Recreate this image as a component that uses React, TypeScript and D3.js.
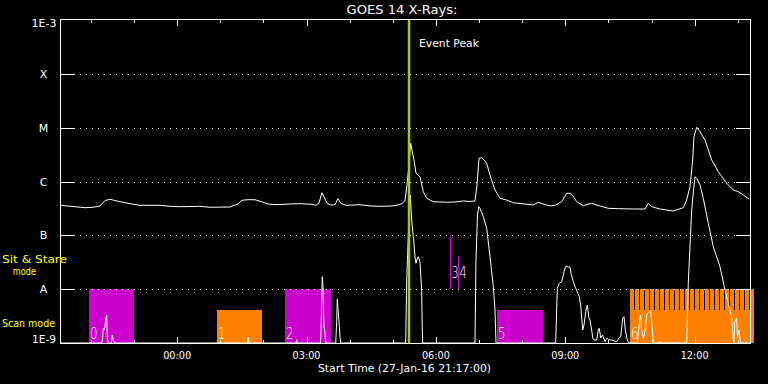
import React from "react";
import * as d3 from "d3";

// ---- data ----
const START = Date.UTC(2016, 0, 27, 21, 17, 0);
const END = Date.UTC(2016, 0, 28, 13, 17, 0);
const titleText = "GOES 14 X-Rays:";
const xAxisTitle = "Start Time (27-Jan-16 21:17:00)";
const eventPeakHour = 8.093;
const classLabels = ["X", "M", "C", "B", "A"];
const classValues = [1e-4, 1e-5, 1e-6, 1e-7, 1e-8];
const endLabels = ["1E-3", "1E-9"];

// long channel [hours since start, log10 flux]
const longCurve: [number, number][] = [
  [0, -6.442], [0.348, -6.468], [0.58, -6.487], [0.765, -6.479], [0.928, -6.455], [1.043, -6.353],
  [1.159, -6.33], [1.275, -6.353], [1.391, -6.375], [1.623, -6.412], [1.855, -6.442], [2.319, -6.442],
  [2.551, -6.461], [2.783, -6.468], [3.246, -6.461], [3.478, -6.479], [3.942, -6.474], [4.128, -6.418],
  [4.22, -6.349], [4.359, -6.338], [4.522, -6.338], [4.684, -6.381], [4.823, -6.418], [4.986, -6.431],
  [5.333, -6.418], [5.565, -6.412], [5.843, -6.423], [5.936, -6.442], [6.006, -6.399], [6.075, -6.208],
  [6.122, -6.288], [6.191, -6.399], [6.261, -6.436], [6.377, -6.431], [6.446, -6.319], [6.516, -6.409],
  [6.632, -6.442], [6.957, -6.431], [7.188, -6.455], [7.42, -6.461], [7.699, -6.455], [7.838, -6.436],
  [7.93, -6.412], [8.0, -6.356], [8.046, -6.065], [8.093, -5.693], [8.132, -5.29], [8.162, -5.415],
  [8.209, -5.6], [8.255, -5.847], [8.301, -5.879], [8.348, -5.916], [8.424, -6.189], [8.503, -6.312],
  [8.656, -6.375], [8.967, -6.386], [9.159, -6.381], [9.352, -6.362], [9.507, -6.371], [9.623, -6.362],
  [9.67, -6.065], [9.716, -5.569], [9.778, -5.558], [9.832, -5.6], [9.894, -5.662], [9.971, -5.879],
  [10.087, -6.158], [10.203, -6.312], [10.358, -6.344], [10.511, -6.394], [10.667, -6.409], [10.975, -6.436],
  [11.091, -6.386], [11.2, -6.418], [11.362, -6.455], [11.501, -6.436], [11.633, -6.375], [11.749, -6.219],
  [11.826, -6.219], [11.896, -6.269], [11.981, -6.375], [12.134, -6.449], [12.329, -6.405], [12.522, -6.455],
  [12.714, -6.498], [12.946, -6.505], [13.294, -6.511], [13.565, -6.511], [13.642, -6.405], [13.72, -6.468],
  [13.913, -6.511], [14.221, -6.548], [14.453, -6.487], [14.532, -6.344], [14.609, -6.096], [14.671, -5.6],
  [14.701, -5.168], [14.764, -4.993], [14.841, -5.075], [14.957, -5.229], [15.112, -5.6], [15.265, -5.818],
  [15.46, -6.033], [15.613, -6.158], [15.729, -6.189], [15.845, -6.251], [15.984, -6.33],
];

// short channel [hours since start, log10 flux] (below 1E-9 is off scale)
const shortCurve: [number, number][] = [
  [0, -9.3], [0.928, -9.3], [0.981, -8.976], [1.004, -8.727], [1.032, -8.758], [1.06, -8.56], [1.083, -8.48],
  [1.097, -8.913], [1.125, -9.3], [1.194, -9.3], [1.213, -8.851], [1.236, -8.95], [1.253, -8.976], [1.275, -9.3],
  [4.348, -9.3], [4.366, -8.89], [4.383, -9.3], [5.472, -9.3], [5.489, -8.94], [5.503, -9.3],
  [6.041, -9.3], [6.052, -8.809], [6.068, -8.201], [6.082, -7.768], [6.099, -7.954], [6.106, -8.201],
  [6.122, -8.697], [6.145, -8.809], [6.161, -9.3], [6.393, -9.3], [6.416, -8.604], [6.43, -8.188],
  [6.446, -8.355], [6.463, -8.541], [6.477, -8.697], [6.493, -8.883], [6.509, -9.3],
  [8.016, -9.3], [8.039, -7.861], [8.081, -6.9], [8.123, -6.251], [8.155, -6.715], [8.193, -7.025],
  [8.232, -7.397], [8.255, -7.519], [8.29, -7.421], [8.308, -7.397], [8.348, -7.49], [8.387, -8.047],
  [8.401, -8.759], [8.408, -9.3],
  [9.623, -9.3], [9.646, -7.458], [9.681, -6.622], [9.709, -6.468], [9.739, -6.498], [9.816, -6.654],
  [9.894, -6.869], [9.971, -7.397], [10.048, -7.954], [10.087, -8.387], [10.11, -9.3],
  [11.494, -9.3], [11.532, -7.984], [11.578, -7.891], [11.633, -7.861], [11.671, -7.737], [11.71, -7.612],
  [11.733, -7.57], [11.787, -7.594], [11.826, -7.583], [11.849, -7.705], [11.903, -7.861], [11.942, -7.954],
  [11.995, -8.047], [12.042, -8.14], [12.074, -8.294], [12.121, -8.759], [12.151, -8.666], [12.197, -8.387],
  [12.227, -8.294], [12.267, -8.541], [12.29, -8.573], [12.329, -8.759], [12.353, -8.907], [12.383, -8.944],
  [12.445, -8.944], [12.482, -8.759], [12.506, -8.727], [12.538, -8.907], [12.585, -8.851], [12.598, -8.883],
  [12.638, -8.976], [12.677, -8.913], [12.754, -8.944], [12.793, -8.944], [12.909, -8.976], [12.962, -8.907],
  [13.002, -8.883], [13.048, -8.541], [13.078, -8.511], [13.109, -8.759], [13.155, -8.944], [13.194, -9.3],
  [13.391, -9.3], [13.41, -8.82], [13.449, -8.511], [13.465, -8.48], [13.488, -8.759], [13.526, -8.913],
  [13.565, -8.789], [13.605, -8.48], [13.643, -8.437], [13.681, -8.4], [13.704, -8.449], [13.735, -8.759],
  [13.757, -8.976], [13.774, -9.3], [13.901, -9.3], [13.913, -8.976], [13.924, -9.3],
  [14.532, -9.3], [14.569, -7.891], [14.648, -6.529], [14.69, -6.158], [14.725, -5.911], [14.764, -5.94],
  [14.841, -6.065], [14.917, -6.312], [15.033, -6.776], [15.149, -7.211], [15.304, -7.583], [15.42, -8.015],
  [15.497, -8.263], [15.574, -8.511], [15.612, -8.944], [15.629, -9.3], [15.645, -8.61], [15.691, -8.541],
  [15.71, -8.907], [15.745, -8.759], [15.78, -9.3], [16.0, -9.3],
];

// observation blocks: label, mode, start hour, end hour, top flux
const blockLabels = ["0", "1", "2", "3", "4", "5", "6"];
const blockModes = ["stare", "scan", "stare", "stare", "stare", "stare", "scan"];
const blockStart = [0.672, 3.641, 5.217, 9.05, 9.236, 10.133, 13.217];
const blockEnd = [1.716, 4.684, 6.284, 9.05, 9.236, 11.2, 16.04];
const blockTop = [1e-8, 4.1e-9, 1e-8, 9.7e-8, 4.13e-8, 4.1e-9, 4.1e-9];
const blockBase = [1e-9, 1e-9, 1e-9, 1e-8, 1e-8, 1e-9, 1e-9];

// individual scans inside block 6 (start hours), each reaching 1E-8
const scanStarts = [13.217, 13.333, 13.449, 13.565, 13.681, 13.797, 13.913, 14.029, 14.145, 14.261,
  14.377, 14.493, 14.609, 14.725, 14.841, 14.957, 15.073, 15.189, 15.305, 15.421, 15.537, 15.653,
  15.769, 15.885, 16.0];
const scanLength = 0.082;
const scanTop = 1e-8;

const MAGENTA = "#cc00cc";
const ORANGE = "#ff8000";
const YELLOW = "#ffff00";
const GREEN = "#a0cc00";
const FONT = "'DejaVu Sans', sans-serif";

export default function App() {
  const W = 768, H = 384;
  const left = 60, right = 750, top = 20, bottom = 343;
  const toDate = (h: number) => new Date(START + h * 3600000);

  const x = d3.scaleUtc().domain([new Date(START), new Date(END)]).range([left, right]);
  const y = d3.scaleLog().domain([1e-9, 1e-3]).range([bottom, top]).clamp(true);
  const xh = (h: number) => x(toDate(h));

  const line = d3.line<[number, number]>()
    .x((d) => xh(d[0]))
    .y((d) => y(Math.pow(10, d[1])));

  const minorTicks = x.ticks(d3.utcHour.every(1)!);
  const majorTicks = x.ticks(d3.utcHour.every(3)!);
  const fmt = d3.utcFormat("%H:%M");

  const colorFor = (m: string) => (m === "stare" ? MAGENTA : ORANGE);

  return (
    <svg width={W} height={H} style={{ position: "fixed", left: 0, top: 0, background: "#000" }}>
      <rect x={0} y={0} width={W} height={H} fill="#000" />
      <defs>
        <clipPath id="plot">
          <rect x={left} y={top} width={right - left + 2} height={bottom - top} />
        </clipPath>
      </defs>

      {/* observation blocks */}
      <g shapeRendering="crispEdges">
        {blockLabels.map((lb, i) => {
          const x0 = xh(blockStart[i]);
          const x1 = xh(blockEnd[i]);
          if (x1 - x0 < 1) {
            return (
              <line key={lb} x1={x0} x2={x0} y1={y(blockBase[i])} y2={y(blockTop[i])}
                stroke={colorFor(blockModes[i])} strokeWidth={1} />
            );
          }
          return (
            <rect key={lb} x={x0} y={y(blockTop[i])} width={x1 - x0}
              height={y(blockBase[i]) - y(blockTop[i])} fill={colorFor(blockModes[i])} />
          );
        })}
        {scanStarts.map((s, i) => (
          <rect key={"s" + i} x={xh(s)} y={y(scanTop)} width={xh(s + scanLength) - xh(s)}
            height={bottom - y(scanTop)} fill={ORANGE} />
        ))}
      </g>

      {/* grid */}
      <g shapeRendering="crispEdges">
        {classValues.map((v, i) => (
          <g key={classLabels[i]}>
            <line x1={74} x2={736} y1={Math.round(y(v)) + 0.5} y2={Math.round(y(v)) + 0.5}
              stroke="#fff" strokeDasharray="1 5" />
            <line x1={left} x2={74} y1={Math.round(y(v)) + 0.5} y2={Math.round(y(v)) + 0.5} stroke="#fff" />
            <line x1={736} x2={right} y1={Math.round(y(v)) + 0.5} y2={Math.round(y(v)) + 0.5} stroke="#fff" />
          </g>
        ))}
      </g>

      {/* curves */}
      <g clipPath="url(#plot)" fill="none" stroke="#fff" strokeWidth={1} strokeLinejoin="round">
        <path d={line(longCurve) || ""} />
        <path d={line(shortCurve) || ""} />
      </g>

      {/* frame */}
      <g shapeRendering="crispEdges" stroke="#fff">
        <rect x={left + 0.5} y={top - 0.5} width={right - left} height={bottom - top + 0.5} fill="none" />
        {minorTicks.map((t, i) => {
          const isMajor = t.getUTCHours() % 3 === 0;
          const len = isMajor ? 6 : 3;
          const xp = Math.round(x(t)) + 0.5;
          return (
            <g key={"t" + i}>
              <line x1={xp} x2={xp} y1={top} y2={top + len} />
              <line x1={xp} x2={xp} y1={bottom} y2={bottom - len} />
            </g>
          );
        })}
      </g>

      {/* event peak */}
      <line x1={xh(eventPeakHour)} x2={xh(eventPeakHour)} y1={top} y2={bottom}
        stroke={GREEN} strokeWidth={2.5} />
      <text x={xh(eventPeakHour) + 10} y={46.5} fill="#fff" fontFamily={FONT} fontSize={11}
        textLength={60} lengthAdjust="spacingAndGlyphs">Event Peak</text>

      {/* block labels */}
      {blockLabels.map((lb, i) => {
        const x0 = xh(blockStart[i]);
        const thin = xh(blockEnd[i]) - x0 < 1;
        return (
          <text key={"l" + lb} x={x0 + 1} y={thin ? y(1e-8) - 11 : bottom - 4} fill="#fff"
            fontFamily={FONT} fontSize={15} fontWeight={300} textLength={7.5}
            lengthAdjust="spacingAndGlyphs">{lb}</text>
        );
      })}

      {/* texts */}
      <text x={402} y={13.5} fill="#fff" fontFamily={FONT} fontSize={12} textAnchor="middle"
        textLength={111} lengthAdjust="spacingAndGlyphs">{titleText}</text>
      {majorTicks.map((t, i) => (
        <text key={"m" + i} x={x(t)} y={359} fill="#fff" fontFamily={FONT} fontSize={11}
          textAnchor="middle" textLength={28} lengthAdjust="spacingAndGlyphs">{fmt(t)}</text>
      ))}
      <text x={318} y={372} fill="#fff" fontFamily={FONT} fontSize={11}
        textLength={173} lengthAdjust="spacingAndGlyphs">{xAxisTitle}</text>

      {classLabels.map((c, i) => (
        <text key={"c" + c} x={43.5} y={y(classValues[i]) + 4} fill="#fff" fontFamily={FONT}
          fontSize={11} textAnchor="middle">{c}</text>
      ))}
      <text x={56.5} y={27} fill="#fff" fontFamily={FONT} fontSize={11} textAnchor="end"
        textLength={25} lengthAdjust="spacingAndGlyphs">{endLabels[0]}</text>
      <text x={56} y={343} fill="#fff" fontFamily={FONT} fontSize={11} textAnchor="end"
        textLength={24} lengthAdjust="spacingAndGlyphs">{endLabels[1]}</text>

      <text x={2} y={263} fill={YELLOW} fontFamily={FONT} fontSize={11}
        textLength={65} lengthAdjust="spacingAndGlyphs">Sit &amp; Stare</text>
      <text x={12.7} y={275} fill={YELLOW} fontFamily={FONT} fontSize={11}
        textLength={23.3} lengthAdjust="spacingAndGlyphs">mode</text>
      <text x={2} y={327} fill={YELLOW} fontFamily={FONT} fontSize={11}
        textLength={53} lengthAdjust="spacingAndGlyphs">Scan mode</text>
    </svg>
  );
}
